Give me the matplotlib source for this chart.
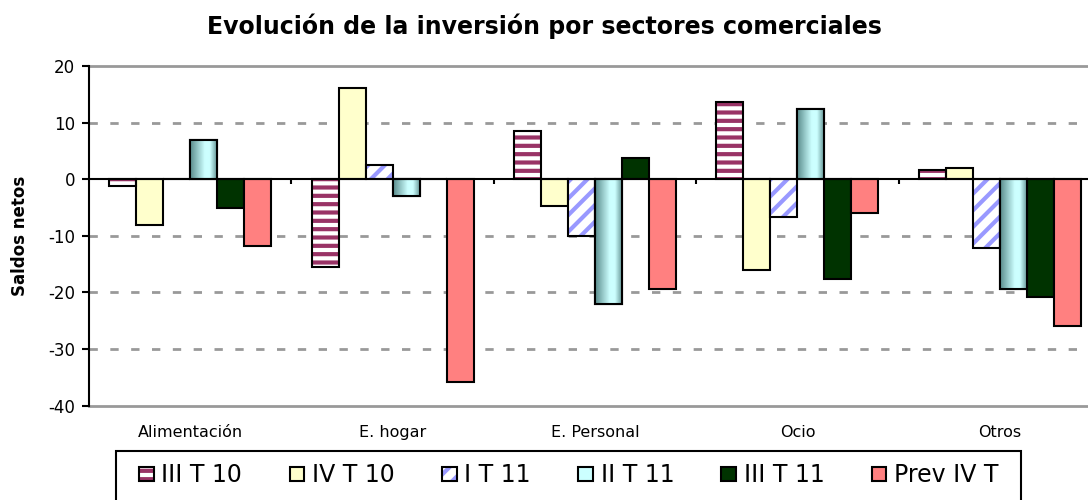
import numpy as np
import matplotlib
matplotlib.use("Agg")
import matplotlib.pyplot as plt
from matplotlib.patches import Patch, Rectangle
from matplotlib.legend_handler import HandlerTuple
from matplotlib.colors import LinearSegmentedColormap

plt.rcParams['font.family'] = ['DejaVu Sans']
plt.rcParams['hatch.linewidth'] = 3.0

title = "Evolución de la inversión por sectores comerciales"
ylabel = "Saldos netos"
categories = ["Alimentación", "E. hogar", "E. Personal", "Ocio", "Otros"]
series_names = ["III T 10", "IV T 10", "I T 11", "II T 11", "III T 11", "Prev IV T"]
iii_t_10 = [-1.2, -15.5, 8.5, 13.6, 1.7]
iv_t_10 = [-8.1, 16.2, -4.7, -16.1, 1.9]
i_t_11 = [0.0, 2.5, -10.0, -6.7, -12.2]
ii_t_11 = [7.0, -3.0, -22.1, 12.4, -19.3]
iii_t_11 = [-5.1, 0.0, 3.8, -17.7, -20.8]
prev_iv_t = [-11.8, -35.8, -19.3, -5.9, -26.0]
yticks = [-40, -30, -20, -10, 0, 10, 20]

series = [iii_t_10, iv_t_10, i_t_11, ii_t_11, iii_t_11, prev_iv_t]

W, H = 1088, 500
fig = plt.figure(figsize=(W / 100, H / 100), dpi=100)
ax = fig.add_axes([89 / W, 94.3 / H, 1012 / W, 339.7 / H])

x = np.arange(len(categories))
n = len(series)
bw = 0.8 / n
edge_lw = 1.5

grad_cmap = LinearSegmentedColormap.from_list(
    "teal", [(0.0, "#5a8c8c"), (0.55, "#ccffff"), (0.75, "#ccffff"), (1.0, "#6a9a9a")])
grad = np.linspace(0, 1, 64).reshape(1, -1)

handles = []
for j, vals in enumerate(series):
    xs = x + (j - (n - 1) / 2) * bw
    if j == 0:
        ax.bar(xs, vals, bw, facecolor="white", edgecolor="#993366", linewidth=0,
               hatch="--", zorder=3)
        ax.bar(xs, vals, bw, facecolor="none", edgecolor="black", linewidth=edge_lw, zorder=4)
        h = (Patch(facecolor="white", edgecolor="#993366", linewidth=0, hatch="--"),
             Patch(facecolor="none", edgecolor="black", linewidth=edge_lw))
    elif j == 2:
        ax.bar(xs, vals, bw, facecolor="white", edgecolor="#9999ff", linewidth=0,
               hatch="//", zorder=3)
        ax.bar(xs, vals, bw, facecolor="none", edgecolor="black", linewidth=edge_lw, zorder=4)
        h = (Patch(facecolor="white", edgecolor="#9999ff", linewidth=0, hatch="//"),
             Patch(facecolor="none", edgecolor="black", linewidth=edge_lw))
    elif j == 3:
        bars = ax.bar(xs, vals, bw, facecolor="#ccffff", edgecolor="black",
                      linewidth=edge_lw, zorder=3)
        for b in bars:
            x0, y0, bwid, bh = b.get_x(), b.get_y(), b.get_width(), b.get_height()
            if bh == 0:
                continue
            im = ax.imshow(grad, cmap=grad_cmap, aspect="auto",
                           extent=[x0, x0 + bwid, min(y0, y0 + bh), max(y0, y0 + bh)],
                           zorder=3.5, interpolation="bilinear")
            im.set_clip_path(b)
            ax.add_patch(Rectangle((x0, y0), bwid, bh, facecolor="none",
                                   edgecolor="black", linewidth=edge_lw, zorder=4))
        h = Patch(facecolor="#ccffff", edgecolor="black", linewidth=edge_lw)
    else:
        fc = {1: "#ffffcc", 4: "#003300", 5: "#ff8080"}[j]
        ax.bar(xs, vals, bw, facecolor=fc, edgecolor="black", linewidth=edge_lw, zorder=3)
        h = Patch(facecolor=fc, edgecolor="black", linewidth=edge_lw)
    handles.append(h)

ax.set_xlim(-0.5, len(categories) - 0.5)
ax.set_ylim(yticks[0], yticks[-1])
ax.set_yticks(yticks)
ax.set_yticklabels([str(t) for t in yticks], fontsize=12)
ax.tick_params(axis="y", direction="out", length=5, width=1.5, pad=5)
ax.set_xticks(x)
ax.set_xticklabels(categories, fontsize=11.5)
ax.tick_params(axis="x", length=0, pad=14)

for v in yticks[1:-1]:
    if v != 0:
        ax.axhline(v, color="#999999", linewidth=2, linestyle=(0, (3, 4.5)), zorder=1)
ax.axhline(0, color="black", linewidth=1.5, zorder=5)
# category boundary ticks on the zero line
bounds = np.arange(len(categories) + 1) - 0.5
ax.vlines(bounds[1:-1], -0.9, 0, color="black", linewidth=1.5, zorder=5)

for s in ["top", "bottom"]:
    ax.spines[s].set_color("#999999")
    ax.spines[s].set_linewidth(2)
ax.spines["right"].set_visible(False)
ax.spines["left"].set_color("black")
ax.spines["left"].set_linewidth(1.5)
ax.spines["left"].set_zorder(6)

ax.set_ylabel(ylabel, fontsize=12, fontweight="bold")
ax.yaxis.set_label_coords(-60 / 1012, 0.5)

fig.text(0.5, 1 - 26 / H, title, ha="center", va="center", fontsize=17, fontweight="bold")

fig.patches.append(Rectangle((116 / W, -0.05), (1021 - 116) / W, (H - 451) / H + 0.05,
                             transform=fig.transFigure, facecolor="none",
                             edgecolor="black", linewidth=1.5))
fig.legend(handles, series_names, loc="center left",
           bbox_to_anchor=(139 / W, 1 - 475 / H), ncol=n, frameon=False,
           fontsize=17, handlelength=0.62, handleheight=0.55, handletextpad=0.33,
           columnspacing=2.0, borderpad=0, borderaxespad=0,
           handler_map={tuple: HandlerTuple(ndivide=1, pad=0)})

fig.savefig("out.png", dpi=100)
